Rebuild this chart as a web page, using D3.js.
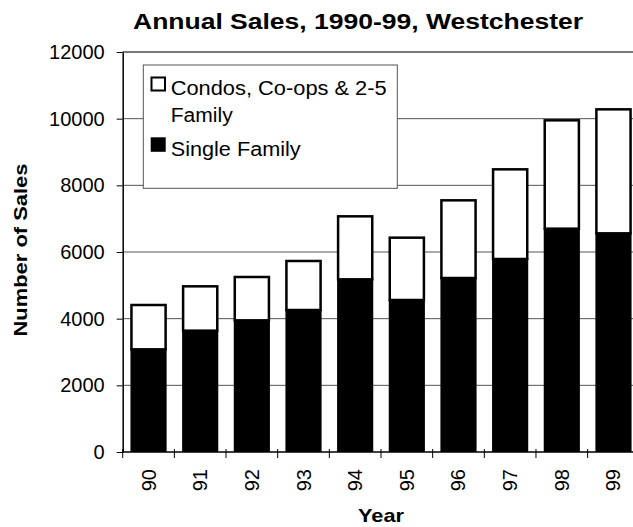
<!DOCTYPE html>
<html>
<head>
<meta charset="utf-8">
<script src="https://cdn.jsdelivr.net/npm/d3@7"></script>
<style>
  html, body { margin: 0; padding: 0; background: #fff; }
  svg { display: block; font-family: "Liberation Sans", Arial, sans-serif; }
</style>
</head>
<body>
<svg id="chart" width="633" height="527"></svg>
<script>
const years = ["90", "91", "92", "93", "94", "95", "96", "97", "98", "99"];
const singleFamily = [3110, 3670, 3980, 4290, 5210, 4590, 5250, 5820, 6730, 6590];
const condos = [1330, 1330, 1300, 1470, 1890, 1870, 2330, 2690, 3250, 3720];
const yTicks = [0, 2000, 4000, 6000, 8000, 10000, 12000];
const legendLabels = [["Condos, Co-ops & 2-5", "Family"], ["Single Family"]];

(function () {
const svg = d3.select("#chart");
const pLeft = 122.7, pRight = 639.3, pTop = 52, pBottom = 452;

const x = d3.scaleBand().domain(years).range([pLeft, pRight]).paddingInner(0.3).paddingOuter(0.15);
const y = d3.scaleLinear().domain([0, 12000]).range([pBottom, pTop]);

// gridlines
svg.append("g").selectAll("line").data(yTicks.filter(d => d > 0)).join("line")
  .attr("x1", pLeft).attr("x2", pRight)
  .attr("y1", d => y(d)).attr("y2", d => y(d))
  .attr("stroke", d => d === 12000 ? "#777" : "#555")
  .attr("stroke-width", d => d === 12000 ? 2 : 1);

// legend box (covers gridlines)
const lg = svg.append("g");
lg.append("rect").attr("x", 143.3).attr("y", 65).attr("width", 254).attr("height", 123.3)
  .attr("fill", "#fff").attr("stroke", "#555").attr("stroke-width", 1);
lg.append("rect").attr("x", 151.5).attr("y", 77.5).attr("width", 13.5).attr("height", 13)
  .attr("fill", "#fff").attr("stroke", "#000").attr("stroke-width", 2);
lg.append("rect").attr("x", 150.7).attr("y", 137.3).attr("width", 15).attr("height", 14.5)
  .attr("fill", "#000");
const legendLines = [
  {t: legendLabels[0][0], y: 95, w: 216},
  {t: legendLabels[0][1], y: 121.7, w: 62},
  {t: legendLabels[1][0], y: 155.5, w: 130}
];
lg.selectAll("text").data(legendLines).join("text")
  .attr("x", 170.7).attr("y", d => d.y)
  .attr("font-size", 20).attr("fill", "#000")
  .attr("textLength", d => d.w).attr("lengthAdjust", "spacingAndGlyphs")
  .text(d => d.t);

// bars
const bars = svg.append("g");
bars.selectAll("rect.single").data(years).join("rect").attr("class", "single")
  .attr("x", d => x(d)).attr("width", x.bandwidth())
  .attr("y", (d, i) => y(singleFamily[i]))
  .attr("height", (d, i) => y(0) - y(singleFamily[i]))
  .attr("fill", "#000");
bars.selectAll("rect.condo").data(years).join("rect").attr("class", "condo")
  .attr("x", d => x(d) + 1).attr("width", x.bandwidth() - 2)
  .attr("y", (d, i) => y(singleFamily[i] + condos[i]) + 1)
  .attr("height", (d, i) => y(singleFamily[i]) - y(singleFamily[i] + condos[i]))
  .attr("fill", "#fff").attr("stroke", "#000").attr("stroke-width", 2.5);

// y axis
const yAxis = d3.axisLeft(y).tickValues(yTicks).tickSize(6).tickSizeOuter(0).tickPadding(12).tickFormat(d3.format("d"));
const ya = svg.append("g").attr("transform", `translate(${pLeft},0)`).call(yAxis);
ya.select(".domain").attr("stroke", "#000").attr("stroke-width", 1.5);
ya.selectAll(".tick line").attr("stroke", "#000");
ya.selectAll(".tick text").attr("font-size", 20).attr("font-family", "Liberation Sans, Arial, sans-serif").attr("fill", "#000");

// x axis baseline + ticks at band boundaries
const step = x.step();
const boundaries = d3.range(years.length + 1).map(i => pLeft + i * step);
svg.append("line").attr("x1", pLeft).attr("x2", pRight).attr("y1", pBottom).attr("y2", pBottom)
  .attr("stroke", "#000").attr("stroke-width", 1.5);
svg.append("g").selectAll("line").data(boundaries).join("line")
  .attr("x1", d => d).attr("x2", d => d).attr("y1", pBottom - 3).attr("y2", pBottom + 6)
  .attr("stroke", "#000").attr("stroke-width", 1);
svg.append("g").selectAll("text").data(years).join("text")
  .attr("transform", d => `translate(${x(d) + x.bandwidth() / 2},469) rotate(-90)`)
  .attr("text-anchor", "end").attr("dy", "0.35em")
  .attr("font-size", 20).attr("fill", "#000")
  .text(d => d);

// titles
svg.append("text").attr("x", 358).attr("y", 29.3).attr("text-anchor", "middle")
  .attr("font-size", 22).attr("font-weight", "bold")
  .attr("textLength", 450).attr("lengthAdjust", "spacingAndGlyphs")
  .text("Annual Sales, 1990-99, Westchester");
svg.append("text").attr("transform", "translate(26.7,250) rotate(-90)").attr("text-anchor", "middle")
  .attr("font-size", 18.5).attr("font-weight", "bold")
  .attr("textLength", 173).attr("lengthAdjust", "spacingAndGlyphs")
  .text("Number of Sales");
svg.append("text").attr("x", 381).attr("y", 521.5).attr("text-anchor", "middle")
  .attr("font-size", 18.5).attr("font-weight", "bold")
  .attr("textLength", 46).attr("lengthAdjust", "spacingAndGlyphs")
  .text("Year");
})();
</script>
</body>
</html>
